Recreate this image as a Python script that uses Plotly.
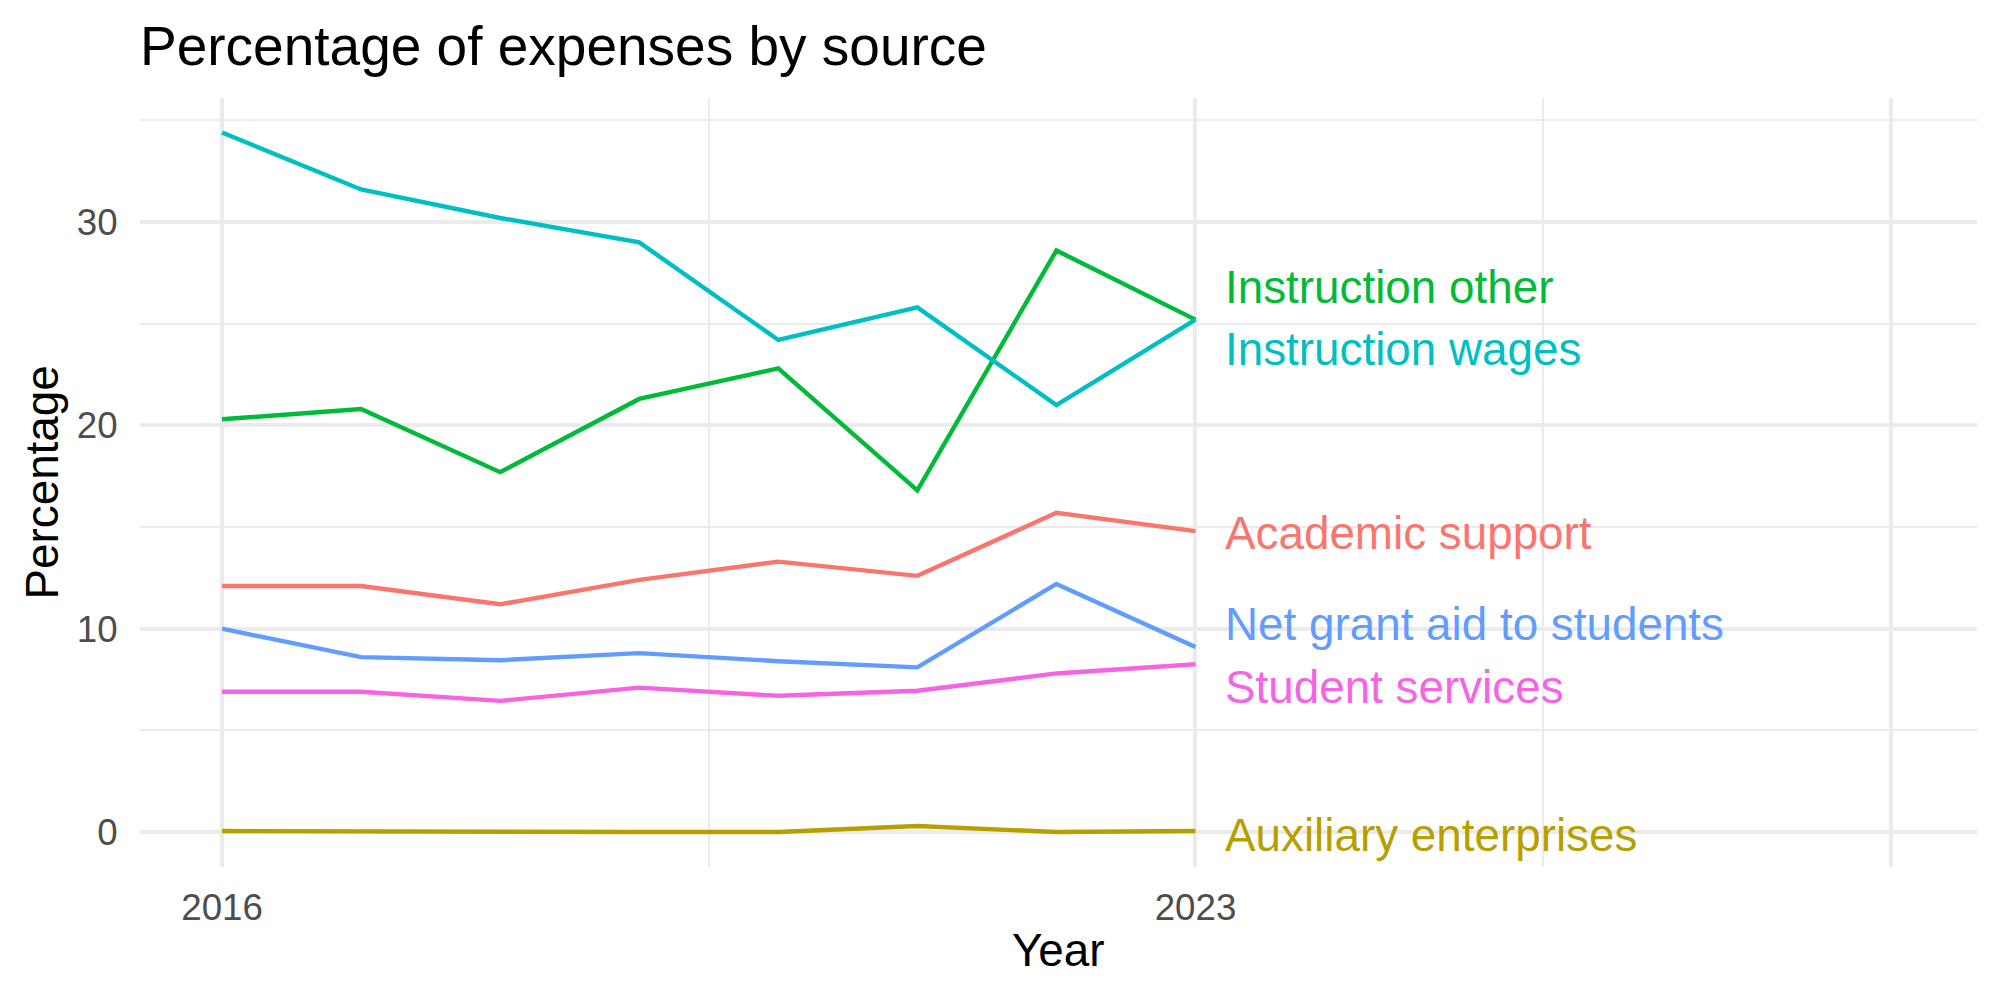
import plotly.graph_objects as go

years = [2016, 2017, 2018, 2019, 2020, 2021, 2022, 2023]

academic_support = [12.1, 12.1, 11.2, 12.4, 13.3, 12.6, 15.7, 14.8]
auxiliary_enterprises = [0.05, 0.02, 0.0, 0.0, 0.0, 0.3, 0.0, 0.05]
instruction_other = [20.3, 20.8, 17.7, 21.3, 22.8, 16.8, 28.6, 25.2]
instruction_wages = [34.4, 31.6, 30.2, 29.0, 24.2, 25.8, 21.0, 25.2]
net_grant_aid = [10.0, 8.6, 8.45, 8.8, 8.4, 8.1, 12.2, 9.1]
student_services = [6.9, 6.9, 6.45, 7.1, 6.7, 6.95, 7.8, 8.25]

series_names = ["Academic support", "Auxiliary enterprises", "Instruction other",
                "Instruction wages", "Net grant aid to students", "Student services"]
series_values = [academic_support, auxiliary_enterprises, instruction_other,
                 instruction_wages, net_grant_aid, student_services]
colors = ["#F8766D", "#B79F00", "#00BA38", "#00BFC4", "#619CFF", "#F564E3"]
# repel-style vertical nudges for end labels (data units)
label_nudge = [-0.1, -0.2, 1.6, -1.45, 1.1, -1.15]

FONT = "Liberation Sans, Arial, Helvetica, sans-serif"

fig = go.Figure()
for name, vals, col in zip(series_names, series_values, colors):
    fig.add_trace(go.Scatter(x=years, y=vals, mode="lines", name=name,
                             line=dict(color=col, width=4.4), showlegend=False))

annotations = []
for name, vals, col, nud in zip(series_names, series_values, colors, label_nudge):
    annotations.append(dict(x=years[-1], y=vals[-1] + nud, xref="x", yref="y",
                            text=name, showarrow=False, xanchor="left", yanchor="middle",
                            xshift=28, font=dict(family=FONT, size=45.8, color=col)))

annotations.append(dict(text="Year", xref="paper", yref="paper", x=0.5, y=0,
                        yshift=-83, showarrow=False, xanchor="center", yanchor="middle",
                        font=dict(family=FONT, size=45.8, color="black")))
annotations.append(dict(text="Percentage", xref="paper", yref="paper", x=0, y=0.5,
                        xshift=-98, showarrow=False, xanchor="center", yanchor="middle",
                        textangle=-90, font=dict(family=FONT, size=45.8, color="black")))

fig.update_layout(
    width=2000, height=1000,
    margin=dict(l=140, r=23, t=98, b=133),
    paper_bgcolor="white", plot_bgcolor="white",
    title=dict(text="Percentage of expenses by source", x=140/2000, xref="container",
               xanchor="left", y=1 - 46/1000, yref="container", yanchor="middle",
               font=dict(family=FONT, size=55, color="black")),
    annotations=annotations,
    xaxis=dict(range=[2015.41, 2028.62], tickvals=[2016, 2023, 2028],
               ticktext=["2016", "2023", ""], showgrid=True, gridcolor="#EBEBEB",
               gridwidth=4.4, zeroline=False, showline=False,
               ticks="outside", ticklen=8, tickcolor="rgba(0,0,0,0)",
               tickfont=dict(family=FONT, size=36.7, color="#4D4D4D"),
               minor=dict(tickvals=[2019.5, 2025.5], showgrid=True,
                          gridcolor="#EBEBEB", gridwidth=2.2)),
    yaxis=dict(range=[-1.72, 36.1], tickvals=[0, 10, 20, 30], showgrid=True,
               gridcolor="#EBEBEB", gridwidth=4.4, zeroline=False, showline=False,
               ticks="outside", ticklen=14, tickcolor="rgba(0,0,0,0)",
               tickfont=dict(family=FONT, size=36.7, color="#4D4D4D"),
               minor=dict(tickvals=[5, 15, 25, 35], showgrid=True,
                          gridcolor="#EBEBEB", gridwidth=2.2)),
)

fig.write_html("out.html")
